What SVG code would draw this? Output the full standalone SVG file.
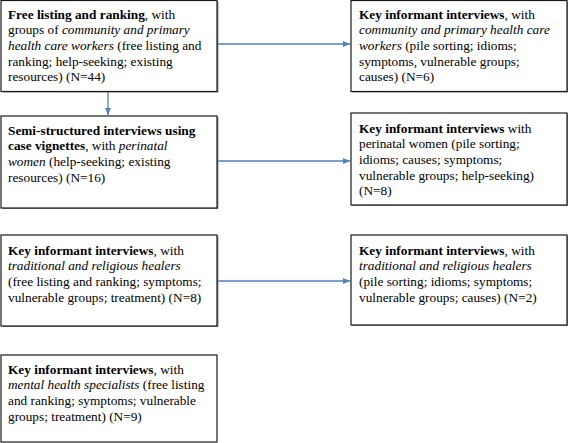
<svg xmlns="http://www.w3.org/2000/svg" width="568" height="443" viewBox="0 0 568 443">
<style>
.box{fill:#fff;stroke:#1a1a1a;stroke-width:1.2}
.sh{fill:#8c8c8c}
.t{font-family:'Liberation Serif',serif;font-size:13.3px;fill:#000}
.b{font-weight:bold}
.i{font-style:italic}
.c{stroke:#4f81bd;stroke-width:1.3;fill:none;marker-end:url(#ah)}
</style>
<defs>
<marker id="ah" markerWidth="8" markerHeight="8" refX="7" refY="4" orient="auto" markerUnits="userSpaceOnUse">
<path d="M0,1 L7,4 L0,7 Z" fill="#4f81bd"/>
</marker>
</defs>
<rect width="568" height="443" fill="#fff"/>
<g id="connectors">
<path class="c" d="M217,44 H350"/>
<path class="c" d="M108,92 V115"/>
<path class="c" d="M217,161 H350"/>
<path class="c" d="M217,281 H350"/>
</g>
<g class="t">
<g id="n1">
<rect class="sh" x="2.5" y="1.5" width="216" height="91"/>
<rect class="box" x="1" y="0.5" width="216" height="91"/>
<text x="8" y="18.5"><tspan class="b">Free listing and ranking</tspan>, with</text>
<text x="8" y="34.2">groups of <tspan class="i">community and primary</tspan></text>
<text x="8" y="49.9"><tspan class="i">health care workers</tspan> (free listing and</text>
<text x="8" y="65.6">ranking; help-seeking; existing</text>
<text x="8" y="81.3">resources) (N=44)</text>
</g>
<g id="n2">
<rect class="sh" x="352.5" y="1.5" width="216" height="91"/>
<rect class="box" x="351" y="0.5" width="216" height="91"/>
<text x="359" y="18.5"><tspan class="b">Key informant interviews</tspan>, with</text>
<text x="359" y="34.2"><tspan class="i">community and primary health care</tspan></text>
<text x="359" y="49.9"><tspan class="i">workers</tspan> (pile sorting; idioms;</text>
<text x="359" y="65.6">symptoms, vulnerable groups;</text>
<text x="359" y="81.3">causes) (N=6)</text>
</g>
<g id="n3">
<rect class="sh" x="2.5" y="117" width="216" height="92"/>
<rect class="box" x="1" y="116" width="216" height="92"/>
<text x="8" y="134.5"><tspan class="b">Semi-structured interviews using</tspan></text>
<text x="8" y="150.2"><tspan class="b">case vignettes</tspan>, with <tspan class="i">perinatal</tspan></text>
<text x="8" y="165.9"><tspan class="i">women</tspan> (help-seeking; existing</text>
<text x="8" y="181.6">resources) (N=16)</text>
</g>
<g id="n4">
<rect class="sh" x="352.5" y="114" width="216" height="92"/>
<rect class="box" x="351" y="113" width="216" height="92"/>
<text x="359" y="132.5"><tspan class="b">Key informant interviews</tspan> with</text>
<text x="359" y="148.2">perinatal women (pile sorting;</text>
<text x="359" y="163.9">idioms; causes; symptoms;</text>
<text x="359" y="179.6">vulnerable groups; help-seeking)</text>
<text x="359" y="195.3">(N=8)</text>
</g>
<g id="n5">
<rect class="sh" x="2.5" y="236" width="216" height="91"/>
<rect class="box" x="1" y="235" width="216" height="91"/>
<text x="8" y="254.5"><tspan class="b">Key informant interviews</tspan>, with</text>
<text x="8" y="270.2"><tspan class="i">traditional and religious healers</tspan></text>
<text x="8" y="285.9">(free listing and ranking; symptoms;</text>
<text x="8" y="301.6">vulnerable groups; treatment) (N=8)</text>
</g>
<g id="n6">
<rect class="sh" x="352.5" y="236" width="216" height="90"/>
<rect class="box" x="351" y="235" width="216" height="90"/>
<text x="359" y="254.5"><tspan class="b">Key informant interviews</tspan>, with</text>
<text x="359" y="270.2"><tspan class="i">traditional and religious healers</tspan></text>
<text x="359" y="285.9">(pile sorting; idioms; symptoms;</text>
<text x="359" y="301.6">vulnerable groups; causes) (N=2)</text>
</g>
<g id="n7">
<rect class="box" x="1" y="355" width="216" height="87"/>
<text x="8" y="373.5"><tspan class="b">Key informant interviews</tspan>, with</text>
<text x="8" y="389.2"><tspan class="i">mental health specialists</tspan> (free listing</text>
<text x="8" y="404.9">and ranking; symptoms; vulnerable</text>
<text x="8" y="420.6">groups; treatment) (N=9)</text>
</g>
</g>
</svg>
